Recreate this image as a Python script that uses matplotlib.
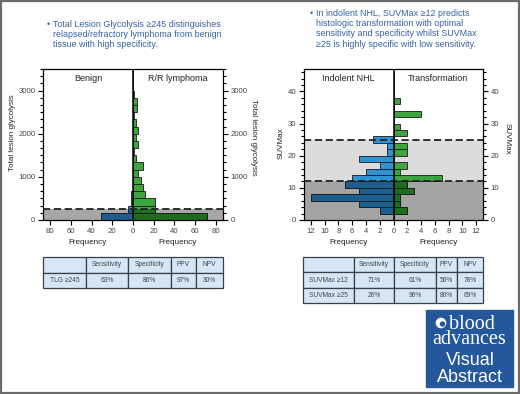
import matplotlib
matplotlib.use('Agg')
import matplotlib.pyplot as plt
import numpy as np
from matplotlib.patches import Rectangle, Circle
from matplotlib.ticker import FuncFormatter, MultipleLocator
from matplotlib import font_manager

installed = {f.name for f in font_manager.fontManager.ttflist}
narrow = 'Liberation Sans Narrow' if 'Liberation Sans Narrow' in installed else 'Liberation Sans'
plt.rcParams['font.family'] = ['Liberation Sans', 'DejaVu Sans']

# ---- data ----
tlg_bin = 3500 / 21
tlg_benign = [31, 5, 2, 2, 0, 0, 0, 0, 0, 0, 0, 0, 0, 0, 0, 0, 0, 0, 0, 0, 0]
tlg_rr = [72, 21, 21, 12, 10, 8, 5, 10, 3, 1, 5, 3, 5, 3, 1, 4, 4, 1, 0, 0, 0]
tlg_cut = 245

suv_bin = 2
suv_indolent = [0, 2, 5, 12, 5, 7, 6, 4, 2, 5, 1, 1, 3, 0, 0, 0, 0, 0, 0, 0, 0, 0, 0]
suv_transf = [0, 2, 1, 1, 3, 2, 7, 1, 2, 0, 2, 2, 0, 2, 1, 0, 4, 0, 1, 0, 0, 0, 0]
suv_cuts = [12, 25]

tbl_cols = ['', 'Sensitivity', 'Specificity', 'PPV', 'NPV']
tlg_rows = [['TLG \u2265245', '63%', '86%', '97%', '30%']]
suv_rows = [['SUVMax \u226512', '71%', '61%', '50%', '78%'],
            ['SUVMax \u226525', '26%', '96%', '80%', '69%']]

text_left = ['Total Lesion Glycolysis \u2265245 distinguishes',
             'relapsed/refractory lymphoma from benign',
             'tissue with high specificity.']
text_right = ['In indolent NHL, SUVMax \u226512 predicts',
              'histologic transformation with optimal',
              'sensitivity and specificity whilst SUVMax',
              '\u226525 is highly specific with low sensitivity.']

light_blue, dark_blue = '#2f93d3', '#1c5f8e'
light_green, dark_green = '#3ea53e', '#1d6d1d'
edge = '#1a1a1a'
txt_blue = '#34639f'

W, H = 520, 394
fig = plt.figure(figsize=(W / 100, H / 100), dpi=100)

# pixel-coordinate overlay for free text
bg = fig.add_axes([0, 0, 1, 1])
bg.set_xlim(0, W)
bg.set_ylim(H, 0)
bg.axis('off')
bg.add_patch(Rectangle((1, 1), W - 2, H - 2, fill=False, ec='#6a6a6a', lw=1.6))


def px_axes(x0, y0, x1, y1):
    return fig.add_axes([x0 / W, (H - y1) / H, (x1 - x0) / W, (y1 - y0) / H])


def mirror(ax, left, right, width, low_cut):
    y = np.arange(len(left)) * width
    lv = -np.array(left)
    rv = np.array(right)
    ax.barh(y, lv, height=width, align='edge', color=light_blue, ec=edge, lw=0.6, zorder=2)
    ax.barh(y, rv, height=width, align='edge', color=light_green, ec=edge, lw=0.6, zorder=2)
    clip = Rectangle((-1000, 0), 2000, low_cut, transform=ax.transData)
    b1 = ax.barh(y, lv, height=width, align='edge', color=dark_blue, ec=edge, lw=0.6, zorder=2.1)
    b2 = ax.barh(y, rv, height=width, align='edge', color=dark_green, ec=edge, lw=0.6, zorder=2.1)
    for b in list(b1) + list(b2):
        b.set_clip_path(clip)
    ax.axvline(0, color='black', lw=1.1, zorder=4)


def style(ax, xmax, xstep, ymax, ymajor, yminor, ylabel, lab_x, lab_y, rlab_x, rlab_y, heads):
    ax.set_xlim(-xmax, xmax)
    ax.set_ylim(0, ymax)
    ax.set_xticks(np.arange(-(xmax // xstep) * xstep, xmax + 0.01, xstep))
    ax.xaxis.set_major_formatter(FuncFormatter(lambda v, p: f'{abs(v):g}'))
    ax.yaxis.set_major_locator(MultipleLocator(ymajor))
    ax.yaxis.set_minor_locator(MultipleLocator(yminor))
    ax.tick_params(which='both', direction='out', right=True, labelright=True,
                   labelsize=5.6, labelcolor='#444', pad=2)
    ax.tick_params(which='major', length=3.5, width=0.8)
    ax.tick_params(which='minor', length=2.5, width=0.8)
    for s in ax.spines.values():
        s.set_linewidth(0.9)
    ax.text(lab_x, lab_y, ylabel, transform=ax.transAxes, rotation=90, ha='center', va='center',
            fontsize=5.8, family=narrow, color='#222')
    ax.text(rlab_x, rlab_y, ylabel, transform=ax.transAxes, rotation=270, ha='center', va='center',
            fontsize=5.8, family=narrow, color='#222')
    for xf in (0.25, 0.75):
        ax.text(xf, -0.148, 'Frequency', transform=ax.transAxes, ha='center', va='center',
                fontsize=5.9, family=narrow, color='#222')
    ax.text(0.25, 0.94, heads[0], transform=ax.transAxes, ha='center', va='center', fontsize=6.5, color='#222')
    ax.text(0.75, 0.94, heads[1], transform=ax.transAxes, ha='center', va='center', fontsize=6.5, color='#222')


# ---- left histogram ----
ax1 = px_axes(43, 69, 223, 220)
ax1.axhspan(0, tlg_cut, color='#a7a7a7', zorder=0, lw=0)
mirror(ax1, tlg_benign, tlg_rr, tlg_bin, tlg_cut)
ax1.axhline(tlg_cut, color='#222', lw=1.3, ls=(0, (4, 2)), zorder=5)
style(ax1, 87, 20, 3500, 1000, tlg_bin, 'Total lesion glycolysis', -0.172, 0.58, 1.172, 0.55,
      ('Benign', 'R/R lymphoma'))

# ---- right histogram ----
ax2 = px_axes(304, 69, 483, 220)
ax2.axhspan(0, suv_cuts[0], color='#a4a4a4', zorder=0, lw=0)
ax2.axhspan(suv_cuts[0], suv_cuts[1], color='#dcdcdc', zorder=0, lw=0)
mirror(ax2, suv_indolent, suv_transf, suv_bin, suv_cuts[0])
for c in suv_cuts:
    ax2.axhline(c, color='#222', lw=1.3, ls=(0, (4, 2)), zorder=5)
style(ax2, 13, 2, 47, 10, 2, 'SUVMax', -0.128, 0.51, 1.134, 0.54,
      ('Indolent NHL', 'Transformation'))

# ---- bullet texts ----
for i, line in enumerate(text_left):
    if i == 0:
        bg.text(47, 24, '\u2022', fontsize=6.4, color=txt_blue, va='center')
    bg.text(53, 24 + i * 10.4, line, fontsize=6.4, color=txt_blue, va='center')
for i, line in enumerate(text_right):
    if i == 0:
        bg.text(310, 13, '\u2022', fontsize=6.4, color=txt_blue, va='center')
    bg.text(316, 13 + i * 10.4, line, fontsize=6.4, color=txt_blue, va='center')


# ---- tables ----
def draw_table(x0, y0, x1, y1, rows, widths):
    tax = px_axes(x0, y0, x1, y1)
    tax.axis('off')
    t = tax.table(cellText=[tbl_cols] + rows, cellLoc='center', bbox=[0, 0, 1, 1],
                  colWidths=widths)
    t.auto_set_font_size(False)
    t.set_fontsize(4.8)
    for cell in t.get_celld().values():
        cell.set_facecolor('#d7e6f6')
        cell.set_edgecolor('#3a3f48')
        cell.set_linewidth(0.9)
        cell.get_text().set_color('#444')


draw_table(43, 257, 223, 288, tlg_rows, [43, 42, 43, 25, 27])
draw_table(303, 257, 483, 303, suv_rows, [51, 40, 42, 21, 26])

# ---- journal logo ----
bg.add_patch(Rectangle((426, 310), 87, 77, color='#24589a', zorder=1))
bg.add_patch(Circle((441, 323), 4.6, color='white', zorder=2))
bg.add_patch(Circle((442.5, 324), 2.0, color='#24589a', zorder=3))
bg.text(469, 332, ' blood\nadvances', fontsize=14.5, family='Liberation Serif', color='white',
        ha='center', va='center', linespacing=0.78, zorder=3)
bg.text(470, 369, 'Visual\nAbstract', fontsize=13, color='white', ha='center', va='center',
        linespacing=0.95, zorder=3)

fig.savefig('out.png', dpi=100)
